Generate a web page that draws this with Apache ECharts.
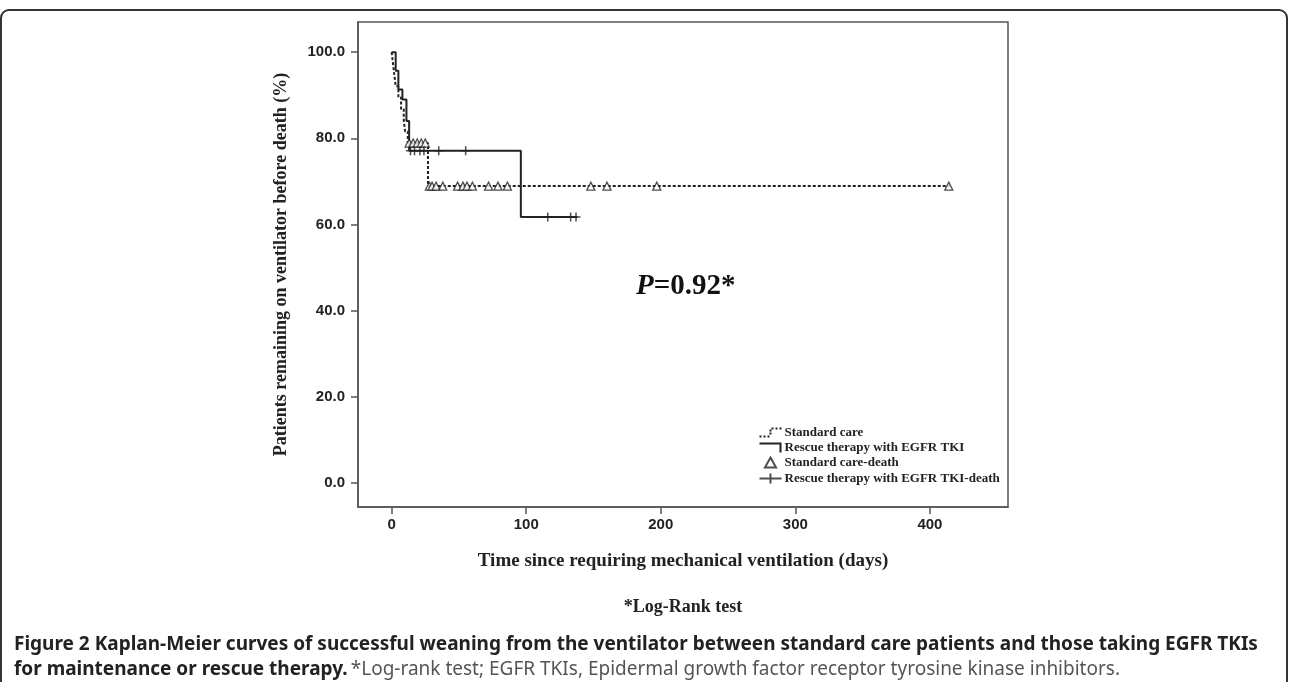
<!DOCTYPE html>
<html>
<head>
<meta charset="utf-8">
<script src="https://cdn.jsdelivr.net/npm/echarts@6/dist/echarts.min.js"></script>
<style>
  html, body { margin: 0; padding: 0; background: #fff; }
  #chart { width: 1290px; height: 682px; }
</style>
</head>
<body>
<div id="chart"></div>
<script>
// Standard care (Kaplan-Meier steps)
const scTime = [0, 1, 2, 3, 5, 7, 9, 10, 12, 27, 415]
const scSurv = [100, 97.4, 94.7, 92.1, 89.5, 86.8, 84.2, 81.6, 78.9, 68.9, 68.9]
// Standard care censored (death)
const scCensTime = [13, 16, 19, 22, 25, 28, 30, 33, 38, 49, 53, 56, 60, 72, 79, 86, 148, 160, 197, 414]
const scCensSurv = [78.9, 78.9, 78.9, 78.9, 78.9, 68.9, 68.9, 68.9, 68.9, 68.9, 68.9, 68.9, 68.9, 68.9, 68.9, 68.9, 68.9, 68.9, 68.9, 68.9]

// Rescue therapy with EGFR TKI
const rsTime = [0, 3, 5, 8, 11, 13, 96, 138]
const rsSurv = [100, 95.7, 91.3, 89, 84, 77.1, 61.7, 61.7]
// Rescue censored (death)
const rsCensTime = [14, 17, 21, 24, 35, 55, 116, 133, 137]
const rsCensSurv = [77.1, 77.1, 77.1, 77.1, 77.1, 77.1, 61.7, 61.7, 61.7]

const xTicks = [0, 100, 200, 300, 400]
const yTicks = [0, 20, 40, 60, 80, 100]

const seriesNames = [
  'Standard care',
  'Rescue therapy with EGFR TKI',
  'Standard care-death',
  'Rescue therapy with EGFR TKI-death'
]

const ink = '#222'
const serif = '"Liberation Serif", "Times New Roman", serif'
const sans = '"Liberation Sans", Arial, sans-serif'
const capFont = '"Noto Sans", "Open Sans", sans-serif'

function pairs(xs, ys) {
  return xs.map((x, i) => [x, ys[i]])
}

// legend icons
const dottedStair = 'path://M0,8h2v2h-2z M4,8h2v2h-2z M8,8h2v2h-2z M10,5h2v2h-2z M10,2h2v2h-2z M12,0h2v2h-2z M16,0h2v2h-2z M20,0h2v2h-2z'
const solidStair = 'path://M0,0 L22,0 L22,10 L20,10 L20,2 L0,2 Z'
const triIcon = 'path://M5,0 L10,9 L0,9 Z'
const crossIcon = 'path://M0,5 L22,5 M11,0 L11,10'
const crossSymbol = 'path://M0,5 L10,5 M5,0 L5,10'

const chart = echarts.init(document.getElementById('chart'))

const option = {
  backgroundColor: '#fff',
  animation: false,
  grid: { left: 358, top: 22, width: 650, bottom: 175, show: true, borderColor: '#555', borderWidth: 1.5 },
  xAxis: {
    type: 'value',
    min: -25,
    max: 458,
    name: 'Time since requiring mechanical ventilation (days)',
    nameLocation: 'middle',
    nameGap: 45,
    nameTextStyle: { fontFamily: serif, fontWeight: 'bold', fontSize: 19, color: ink },
    axisLine: { show: true, onZero: false, lineStyle: { color: '#555', width: 1.5 } },
    axisTick: { show: true, length: 7, customValues: xTicks, lineStyle: { color: '#555', width: 1.5 } },
    axisLabel: { customValues: xTicks, margin: 10, fontFamily: sans, fontWeight: 'bold', fontSize: 15, color: ink },
    splitLine: { show: false }
  },
  yAxis: {
    type: 'value',
    min: -5.6,
    max: 107,
    name: 'Patients remaining on ventilator before death (%)',
    nameLocation: 'middle',
    nameGap: 68,
    nameTextStyle: { fontFamily: serif, fontWeight: 'bold', fontSize: 18, color: ink },
    axisLine: { show: true, onZero: false, lineStyle: { color: '#555', width: 1.5 } },
    axisTick: { show: true, length: 7, customValues: yTicks, lineStyle: { color: '#555', width: 1.5 } },
    axisLabel: {
      customValues: yTicks,
      margin: 13,
      fontFamily: sans,
      fontWeight: 'bold',
      fontSize: 15,
      color: ink,
      formatter: (v) => v.toFixed(1)
    },
    splitLine: { show: false }
  },
  legend: {
    orient: 'vertical',
    left: 752,
    top: 421,
    itemWidth: 22,
    itemHeight: 10,
    itemGap: 2,
    symbolKeepAspect: true,
    textStyle: { fontFamily: serif, fontWeight: 'bold', fontSize: 13, lineHeight: 13, color: ink, padding: [0, 0, 0, -2] },
    data: [
      { name: seriesNames[0], icon: dottedStair },
      { name: seriesNames[1], icon: solidStair },
      { name: seriesNames[2], icon: triIcon },
      { name: seriesNames[3], icon: crossIcon }
    ]
  },
  series: [
    {
      name: seriesNames[0],
      type: 'line',
      step: 'end',
      showSymbol: false,
      data: pairs(scTime, scSurv),
      lineStyle: { color: ink, width: 2, type: [3, 2] },
      itemStyle: { color: ink },
      z: 2
    },
    {
      name: seriesNames[1],
      type: 'line',
      step: 'end',
      showSymbol: false,
      data: pairs(rsTime, rsSurv),
      lineStyle: { color: ink, width: 2 },
      itemStyle: { color: ink },
      z: 3
    },
    {
      name: seriesNames[2],
      type: 'scatter',
      symbol: 'triangle',
      symbolSize: 8,
      data: pairs(scCensTime, scCensSurv),
      itemStyle: { color: '#fff', borderColor: ink, borderWidth: 1.3 },
      z: 4
    },
    {
      name: seriesNames[3],
      type: 'scatter',
      symbol: crossSymbol,
      symbolSize: 9,
      data: pairs(rsCensTime, rsCensSurv),
      itemStyle: { color: 'none', borderColor: ink, borderWidth: 1.5 },
      z: 5
    }
  ],
  graphic: [
    {
      type: 'rect',
      shape: { x: 1, y: 10, width: 1286, height: 700, r: 8 },
      style: { fill: 'none', stroke: '#333', lineWidth: 2 },
      silent: true
    },
    {
      type: 'text',
      left: 636,
      top: 272,
      style: {
        text: '{i|P}{b|=0.92*}',
        rich: {
          i: { fontFamily: serif, fontStyle: 'italic', fontWeight: 'bold', fontSize: 29, fill: '#111' },
          b: { fontFamily: serif, fontWeight: 'bold', fontSize: 29, fill: '#111' }
        }
      }
    },
    {
      type: 'text',
      x: 683,
      y: 607,
      style: {
        text: '*Log-Rank test',
        fontFamily: serif,
        fontWeight: 'bold',
        fontSize: 18,
        fill: ink,
        align: 'center',
        verticalAlign: 'middle'
      }
    },
    {
      type: 'text',
      x: 14,
      y: 644,
      scaleX: 0.95,
      style: {
        text: 'Figure 2 Kaplan-Meier curves of successful weaning from the ventilator between standard care patients and those taking EGFR TKIs',
        fontFamily: capFont,
        fontWeight: 'bold',
        fontSize: 20,
        fill: '#222',
        verticalAlign: 'middle'
      }
    },
    {
      type: 'text',
      x: 14,
      y: 669,
      scaleX: 0.95,
      style: {
        text: '{b|for maintenance or rescue therapy.} {r|*Log-rank test; EGFR TKIs, Epidermal growth factor receptor tyrosine kinase inhibitors.}',
        verticalAlign: 'middle',
        rich: {
          b: { fontFamily: capFont, fontWeight: 'bold', fontSize: 20, fill: '#222' },
          r: { fontFamily: capFont, fontSize: 20, fill: '#555' }
        }
      }
    }
  ]
}

chart.setOption(option)
window.addEventListener('resize', () => chart.resize())
</script>
</body>
</html>
